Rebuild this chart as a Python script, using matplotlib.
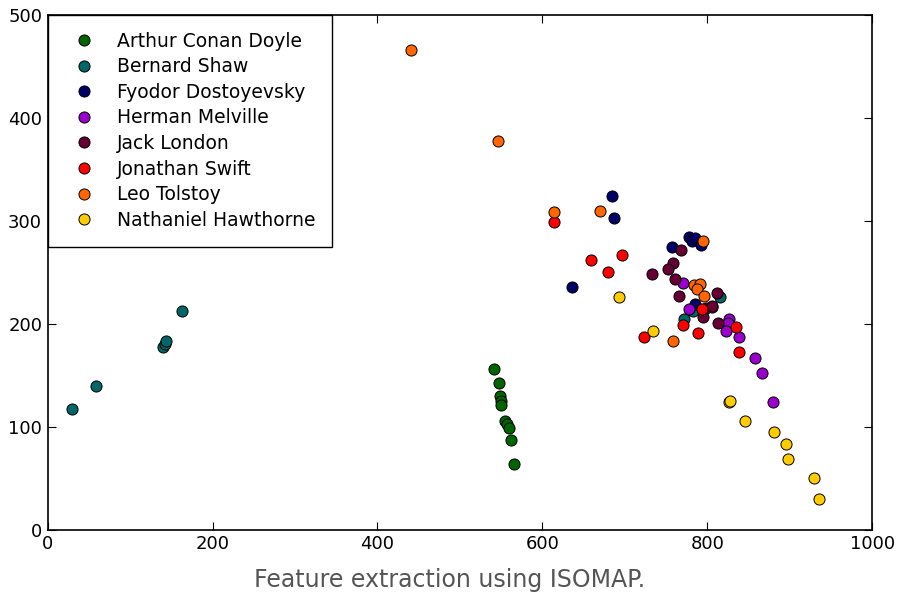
import matplotlib
matplotlib.use("Agg")
import matplotlib.pyplot as plt

authors = ["Arthur Conan Doyle", "Bernard Shaw", "Fyodor Dostoyevsky",
           "Herman Melville", "Jack London", "Jonathan Swift",
           "Leo Tolstoy", "Nathaniel Hawthorne"]
colors = ["#006400", "#006666", "#000066", "#9900cc",
          "#660033", "#ff0000", "#ff6600", "#ffcc00"]

doyle_x = [541, 547, 549, 550, 550, 555, 557, 560, 562, 566]
doyle_y = [156, 143, 130, 125, 121, 106, 103, 99, 87, 64]
shaw_x = [30, 58, 140, 142, 143, 163, 772, 783, 816]
shaw_y = [117, 140, 178, 180, 183, 212, 205, 212, 226]
fyodor_x = [684, 687, 636, 757, 778, 781, 785, 793, 785]
fyodor_y = [324, 303, 236, 275, 284, 280, 283, 277, 219]
melville_x = [771, 778, 806, 827, 825, 823, 839, 858, 866, 880]
melville_y = [240, 214, 216, 205, 201, 193, 187, 167, 152, 124]
london_x = [768, 759, 752, 733, 761, 766, 812, 798, 806, 795, 813]
london_y = [272, 259, 253, 248, 244, 227, 230, 215, 217, 207, 201]
swift_x = [614, 659, 697, 680, 723, 771, 789, 794, 835, 838]
swift_y = [299, 262, 267, 250, 187, 199, 191, 214, 197, 173]
tolstoy_x = [441, 546, 614, 670, 795, 784, 791, 787, 796, 759]
tolstoy_y = [466, 378, 309, 310, 280, 238, 239, 234, 227, 183]
hawthorne_x = [693, 734, 827, 828, 846, 881, 896, 898, 930, 935]
hawthorne_y = [226, 193, 124, 125, 106, 95, 83, 69, 50, 30]

series = [(doyle_x, doyle_y), (shaw_x, shaw_y), (fyodor_x, fyodor_y),
          (melville_x, melville_y), (london_x, london_y), (swift_x, swift_y),
          (tolstoy_x, tolstoy_y), (hawthorne_x, hawthorne_y)]

fig = plt.figure(figsize=(9, 5.94), dpi=100)
ax = fig.add_axes([0.053, 0.108, 0.916, 0.867])

for (xs, ys), name, c in zip(series, authors, colors):
    ax.plot(xs, ys, "o", color=c, markeredgecolor="black",
            markeredgewidth=0.7, markersize=8, label=name)

ax.set_xlim(0, 1000)
ax.set_ylim(0, 500)
ax.set_xticks(range(0, 1001, 200))
ax.set_yticks(range(0, 501, 100))
ax.tick_params(direction="in", top=True, right=True, length=6,
               labelsize=13, pad=4)
for s in ax.spines.values():
    s.set_linewidth(1.2)

# legend sits flush in the top-left corner, square frame
leg = ax.legend(loc="upper left", bbox_to_anchor=(0, 1), borderaxespad=0,
                fontsize=13.5, numpoints=1, fancybox=False, framealpha=1,
                labelspacing=0.35, handletextpad=0.75, borderpad=0.9,
                handlelength=2.05)
leg.get_frame().set_edgecolor("black")
leg.get_frame().set_linewidth(1.0)

fig.text(0.5, 0.012, "Feature extraction using ISOMAP.", ha="center",
         va="baseline", fontsize=17, color="#555555",
         family=["Liberation Sans Narrow", "DejaVu Sans"])

fig.savefig("out.png", dpi=100)
